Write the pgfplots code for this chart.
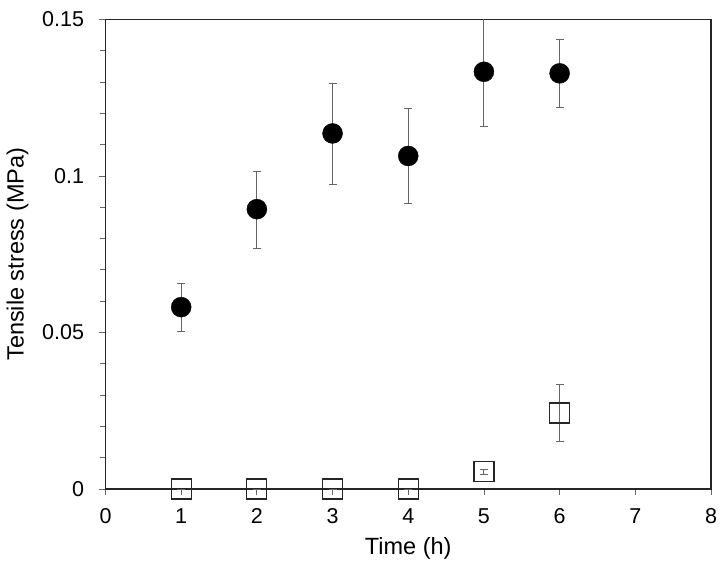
\documentclass[border=0pt]{standalone}
\usepackage{pgfplots}
\pgfplotsset{compat=1.18}
\usepackage{fontspec}
\setmainfont{Liberation Sans}
\begin{document}
\begin{tikzpicture}
\begin{axis}[
  name=ax,
  width=605.5pt, height=469.5pt, scale only axis,
  xmin=0, xmax=8, ymin=0, ymax=0.15,
  xtick={0,1,...,8},
  ytick={0,0.05,0.1,0.15},
  yticklabels={0,0.05,0.1,0.15},
  minor y tick num=4,
  tick align=outside,
  xtick pos=bottom, ytick pos=left,
  major tick length=6pt, minor tick length=5pt,
  tick style={gray!80!black, line width=0.8pt},
  axis line style={black!85, line width=1.2pt},
  /pgf/number format/assume math mode=true,
  ticklabel style={font=\fontsize{21.5}{25}\selectfont},
  yticklabel style={xshift=-12pt},
  xticklabel style={yshift=-10pt},
  label style={font=\fontsize{23.5}{28}\selectfont},
  xlabel={Time (h)},
  ylabel={Tensile stress (MPa)},
  xlabel style={at={(axis description cs:0.5,0)}, anchor=center, yshift=-59pt},
  ylabel style={at={(axis description cs:0,0.5)}, anchor=center, yshift=88pt},
  error bars/error bar style={gray!80!black, line width=0.9pt},
  error bars/error mark options={rotate=90, mark size=4pt, gray!80!black, line width=0.9pt},
]
\addplot[only marks, mark=*, mark size=10pt, mark options={fill=black, draw=black},
  error bars/.cd, y dir=both, y explicit]
table[x=x, y=y, y error plus=ep, y error minus=em] {
x y ep em
1 0.0581 0.0077 0.0077
2 0.0894 0.0121 0.0125
3 0.1136 0.0159 0.0163
4 0.1064 0.0152 0.0151
5 0.1333 0.0175 0.0175
6 0.1328 0.0107 0.0108
};
\addplot[only marks, mark=square, mark size=10pt, mark options={draw=black!85, line width=1.2pt, fill=none},
  error bars/.cd, y dir=both, y explicit]
table[x=x, y=y, y error plus=ep, y error minus=em] {
x y ep em
1 0 0 0
2 0 0 0
3 0 0 0
4 0 0 0
5 0.0055 0.0008 0.0008
6 0.0243 0.0092 0.0092
};
\end{axis}
\path ([shift={(-105.5pt,-77pt)}]ax.south west) rectangle ([shift={(10pt,19.5pt)}]ax.north east);
\end{tikzpicture}
\end{document}
